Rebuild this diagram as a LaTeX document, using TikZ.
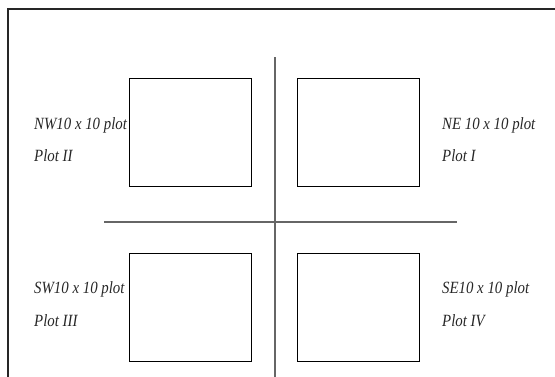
\documentclass[tikz,border=0pt]{standalone}
\usepackage{fontspec}
\usepackage{graphicx}
\setmainfont{Liberation Serif}
\newcommand{\tallit}[1]{\scalebox{0.97}[1.12]{#1}}
\begin{document}
\begin{tikzpicture}[x=1pt,y=-1pt,
  plotbox/.style={draw=black,line width=0.9pt,minimum width=122pt,minimum height=108pt,inner sep=0pt,anchor=north west},
  lbl/.style={anchor=base west,inner sep=0pt,font=\fontsize{15.3}{18}\itshape\selectfont,text=black!85},
  axis/.style={draw=black!60,line width=1.6pt}]
\useasboundingbox (0,0) rectangle (555,376);
\draw[line width=1.2pt,draw=black!85] (8,380) -- (8,9) -- (560,9);
\node[plotbox] (nw) at (129,78) {};
\node[plotbox] (ne) at (297,78) {};
\node[plotbox] (sw) at (129,253) {};
\node[plotbox] (se) at (297,253) {};
\coordinate (vt) at (275,57);
\coordinate (vb) at (275,380);
\coordinate (hl) at (104,222);
\coordinate (hr) at (457,222);
\draw[axis] (vt) -- (vb);
\draw[axis] (hl) -- (hr);
\node[lbl] (nwt) at (34,129) {\tallit{NW10 x 10 plot}};
\node[lbl] (nwp) at (34,161) {\tallit{Plot II}};
\node[lbl] (net) at (442,129) {\tallit{NE 10 x 10 plot}};
\node[lbl] (nep) at (442,161) {\tallit{Plot I}};
\node[lbl] (swt) at (34,293) {\tallit{SW10 x 10 plot}};
\node[lbl] (swp) at (34,326) {\tallit{Plot III}};
\node[lbl] (set) at (442,293) {\tallit{SE10 x 10 plot}};
\node[lbl] (sep) at (442,326) {\tallit{Plot IV}};
\end{tikzpicture}
\end{document}
